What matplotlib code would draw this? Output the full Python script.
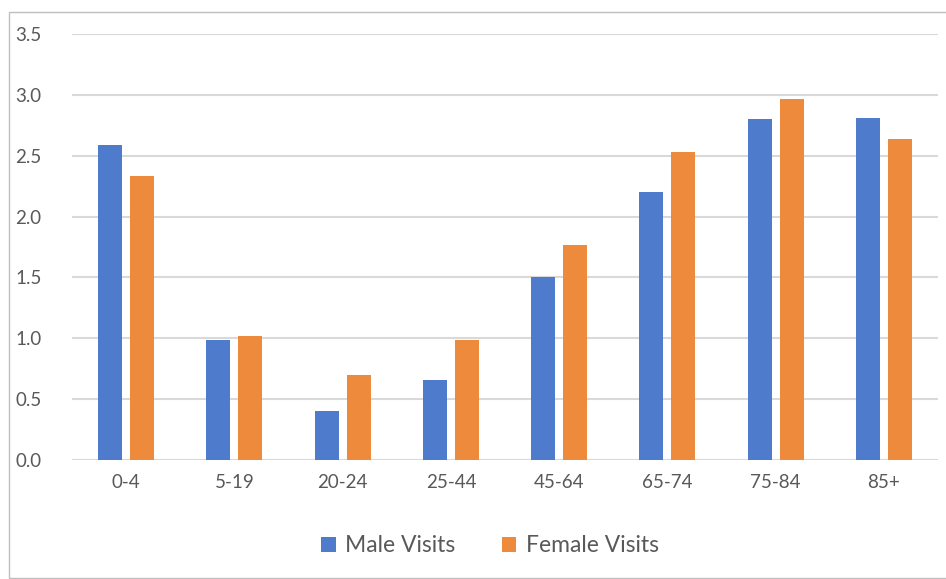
import numpy as np
import matplotlib.pyplot as plt
from matplotlib.patches import Rectangle

age_groups = ['0-4', '5-19', '20-24', '25-44', '45-64', '65-74', '75-84', '85+']
male_visits = [2.59, 0.99, 0.40, 0.66, 1.50, 2.20, 2.80, 2.81]
female_visits = [2.33, 1.02, 0.70, 0.99, 1.77, 2.53, 2.97, 2.64]

plt.rcParams['font.family'] = ['Lato', 'DejaVu Sans']

fig = plt.figure(figsize=(9.46, 5.79), dpi=100)
ax = fig.add_axes([72 / 946, 1 - 460 / 579, (938 - 72) / 946, (460 - 34) / 579])

x = np.arange(len(age_groups))
w = 0.222
off = 0.148
ax.bar(x - off, male_visits, width=w, color='#4E7BCB', label='Male Visits', zorder=3)
ax.bar(x + off, female_visits, width=w, color='#EE8A3C', label='Female Visits', zorder=3)

ax.set_xlim(-0.5, len(age_groups) - 0.5)
ax.set_ylim(0, 3.5)
ax.set_yticks(np.arange(0, 3.51, 0.5))
ax.set_yticklabels([f'{v:.1f}' for v in np.arange(0, 3.51, 0.5)])
ax.set_xticks(x)
ax.set_xticklabels(age_groups)
ax.grid(axis='y', color='#D9D9D9', linewidth=1.5, zorder=0)
for s in ax.spines.values():
    s.set_visible(False)
ax.tick_params(length=0, labelsize=13.5, labelcolor='#595959')
ax.tick_params(axis='y', pad=22)
ax.tick_params(axis='x', pad=10)

ax.legend(loc='center', bbox_to_anchor=(490 / 946, 1 - 546 / 579),
          bbox_transform=fig.transFigure, ncol=2, frameon=False,
          fontsize=16.5, labelcolor='#595959', handlelength=0.65, handleheight=0.65,
          columnspacing=2.0, handletextpad=0.4)

fig.patches.append(Rectangle((9 / 946, 0.002), 1.0, 1 - 12 / 579 - 0.002,
                             transform=fig.transFigure, fill=False,
                             edgecolor='#BFBFBF', linewidth=1.0))

fig.savefig('out.png', dpi=100)
